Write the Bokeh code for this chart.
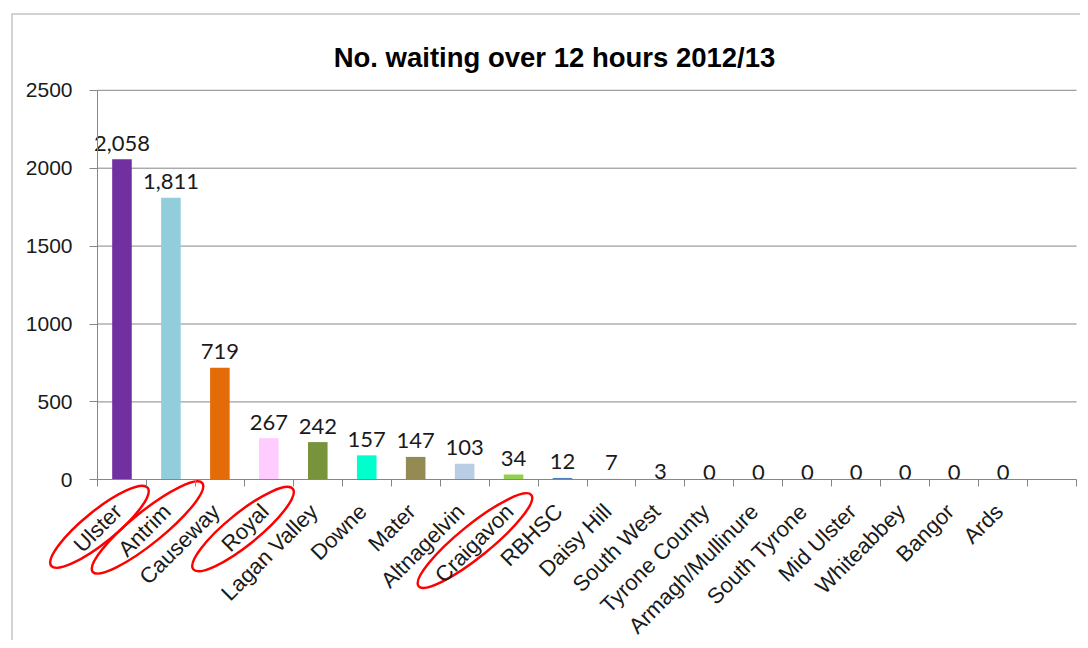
import math
from bokeh.plotting import figure
from bokeh.models import LinearAxis, FixedTicker, Range1d, Label
from bokeh.core.properties import value
from bokeh.embed import file_html
from bokeh.resources import INLINE

# ---------------- data ----------------
hospitals = ["Ulster", "Antrim", "Causeway", "Royal", "Lagan Valley", "Downe", "Mater",
             "Altnagelvin", "Craigavon", "RBHSC", "Daisy Hill", "South West",
             "Tyrone County", "Armagh/Mullinure", "South Tyrone", "Mid Ulster",
             "Whiteabbey", "Bangor", "Ards"]
waiting = [2058, 1811, 719, 267, 242, 157, 147, 103, 34, 12, 7, 3, 0, 0, 0, 0, 0, 0, 0]
bar_colors = ["#7030A0", "#92CDDC", "#E36C09", "#FFCCFF", "#77933C", "#00FFCC", "#948A54",
              "#B9CDE5", "#92D050", "#4F81BD", "#F2DCDB", "#FDE9D9", "#C0504D", "#9BBB59",
              "#8064A2", "#4BACC6", "#F79646", "#1F497D", "#EEECE1"]
y_ticks = [0, 500, 1000, 1500, 2000, 2500]
n_slots = 20  # 19 hospitals plus one empty category slot at the right
title_text = "No. waiting over 12 hours 2012/13"

# red hand-drawn circles around some labels (offsets relative to the category)
circled = ["Ulster", "Antrim", "Royal", "Craigavon"]
circle_dx = [-0.46, -0.478, -0.527, -0.789]   # category units
circle_dy = [-302, -306, -316, -390]          # value units
circle_len = [124, 141, 128, 145]             # px

# ---------------- layout ----------------
W, H = 1080, 640
PX_X = 979 / n_slots        # px per category
PX_Y = 389.5 / 2500         # px per unit
x_start = -(97 - 11) / PX_X
x_end = n_slots + (W - 1076) / PX_X
y_end = 2500 + (89.8 - 13) / PX_Y
y_start = -(H - 479.3) / PX_Y

p = figure(width=W, height=H, output_backend="svg", toolbar_location=None,
           x_axis_type=None, y_axis_type=None,
           x_range=Range1d(x_start, x_end), y_range=Range1d(y_start, y_end),
           min_border_left=11, min_border_top=13, min_border_right=0, min_border_bottom=0,
           outline_line_color=None, background_fill_color="white", border_fill_color="white")

GRID = "#868686"
TXT = "#1a1a1a"

# chart border
p.quad(left=[x_start], right=[x_end + 5], top=[y_end], bottom=[y_start - 500],
       fill_color=None, line_color="#a6a6a6", line_width=2)

# gridlines
gy = y_ticks[1:]
p.segment(x0=[0] * len(gy), x1=[n_slots] * len(gy), y0=gy, y1=gy, line_color=GRID, line_width=1)

# bars
xs = [i + 0.5 for i in range(len(hospitals))]
p.vbar(x=xs, top=waiting, width=0.4, fill_color=bar_colors, line_color=None)

# data labels (Excel drops labels of near-zero bars onto the axis)
label_offset = [-16 if v >= 5 else -7.5 for v in waiting]
p.text(x=xs, y=waiting, text=[f"{v:,}" for v in waiting], text_align="center",
       text_baseline="alphabetic", y_offset=label_offset, text_font=value("Lato"),
       text_font_size="22px", text_color=TXT)

# y axis
yaxis = LinearAxis(fixed_location=0, ticker=FixedTicker(ticks=y_ticks), bounds=(0, 2500),
                   major_tick_out=8, major_tick_in=0, minor_tick_line_color=None,
                   axis_line_color=GRID, major_tick_line_color=GRID,
                   major_label_text_font="Liberation Sans", major_label_text_font_size="21px",
                   major_label_text_color=TXT, major_label_standoff=17)
p.add_layout(yaxis, "left")

# x axis: tick marks between categories
xaxis_ticks = LinearAxis(fixed_location=0, ticker=FixedTicker(ticks=list(range(n_slots + 1))),
                         bounds=(0, n_slots), major_tick_out=7, major_tick_in=0,
                         minor_tick_line_color=None, axis_line_color=GRID,
                         major_tick_line_color=GRID, major_label_text_alpha=0)
p.add_layout(xaxis_ticks, "below")

# x axis: category labels (anchored a little left of the category centre, as Excel does)
lx = [x - 0.08 for x in xs]
xaxis_labels = LinearAxis(fixed_location=0, ticker=FixedTicker(ticks=lx),
                          major_label_overrides={x: h for x, h in zip(lx, hospitals)},
                          axis_line_color=None, major_tick_line_color=None,
                          minor_tick_line_color=None, major_tick_out=0, major_tick_in=0,
                          major_label_orientation=math.pi / 4, major_label_standoff=28,
                          major_label_text_font="Liberation Sans", major_label_text_font_size="22px",
                          major_label_text_color=TXT)
p.add_layout(xaxis_labels, "below")

# red circles
cx = [hospitals.index(c) + 0.5 + d for c, d in zip(circled, circle_dx)]
p.ellipse(x=cx, y=circle_dy, width=circle_len, height=[32] * len(circled),
          width_units="screen", height_units="screen", angle=math.radians(39),
          fill_color=None, line_color="#ff0000", line_width=2.5)

# title
p.add_layout(Label(x=(554 - 97) / PX_X, y=(479.3 - 57) / PX_Y, text=title_text,
                   text_align="center", text_baseline="alphabetic",
                   text_font="Liberation Sans", text_font_style="bold",
                   text_font_size="27.5px", text_color="#000000"))

open("out.html", "w").write(file_html(p, INLINE))
